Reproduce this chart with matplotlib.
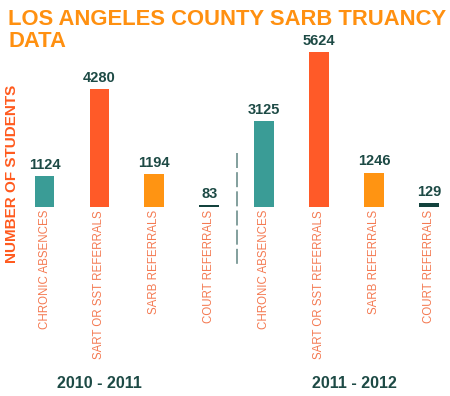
import matplotlib.pyplot as plt

# data
categories = ['CHRONIC ABSENCES', 'SART OR SST REFERRALS', 'SARB REFERRALS', 'COURT REFERRALS']
years = ['2010 - 2011', '2011 - 2012']
values_2010 = [1124, 4280, 1194, 83]
values_2011 = [3125, 5624, 1246, 129]
bar_colors = ['#3a9c96', '#ff5a28', '#ff9412', '#13423d']

W, H = 450, 396
fig = plt.figure(figsize=(W / 100, H / 100), dpi=100)

# axes placed in pixels: baseline at y=207 from top, bar 0 at x=44.5, step 54.9
step = 54.9
x_left, x_right = 20, 448
xlim = ((x_left - 44.5) / step, (x_right - 44.5) / step)
px_per_unit = 0.0276
ymax = 6000
ax = fig.add_axes([x_left / W, (H - 207) / H, (x_right - x_left) / W, ymax * px_per_unit / H])
ax.set_xlim(*xlim)
ax.set_ylim(0, ymax)
ax.axis('off')

label_col = '#1d4a45'
cat_col = '#f47a52'

all_vals = values_2010 + values_2011
xs = list(range(len(all_vals)))
ax.bar(xs, all_vals, width=0.36, color=bar_colors * 2)

for x, v in zip(xs, all_vals):
    ax.text(x, v + 150, str(v), ha='center', va='bottom', fontsize=10.5,
            fontweight='bold', color=label_col, family='Liberation Sans')
    ax.text(x, -110, categories[x % 4], rotation=90, ha='center', va='top',
            fontsize=8.3, color=cat_col, family='Liberation Sans', clip_on=False)

# dashed divider between the two years
ax.plot([3.5, 3.5], [1957, -2140], color='#6d8f8c', lw=1.2, dashes=(9, 2.5), clip_on=False)

# year labels
ax.text(1.0, -6400, years[0], ha='center', va='center', fontsize=11.5,
        fontweight='bold', color=label_col, family='Liberation Sans', clip_on=False)
ax.text(5.64, -6400, years[1], ha='center', va='center', fontsize=11.5,
        fontweight='bold', color=label_col, family='Liberation Sans', clip_on=False)

fig.text(12 / W, 1 - 174 / H, 'NUMBER OF STUDENTS', rotation=90, ha='center', va='center',
         fontsize=11, fontweight='bold', color='#ff5a1e', family='Liberation Sans')

fig.text(8 / W, 1 - 25 / H, 'LOS ANGELES COUNTY SARB TRUANCY', ha='left', va='baseline',
         fontsize=15.8, fontweight='bold', color='#ff9010', family='Liberation Sans')
fig.text(8 / W, 1 - 47 / H, 'DATA', ha='left', va='baseline',
         fontsize=15.8, fontweight='bold', color='#ff9010', family='Liberation Sans')

fig.savefig('out.png', dpi=100)
